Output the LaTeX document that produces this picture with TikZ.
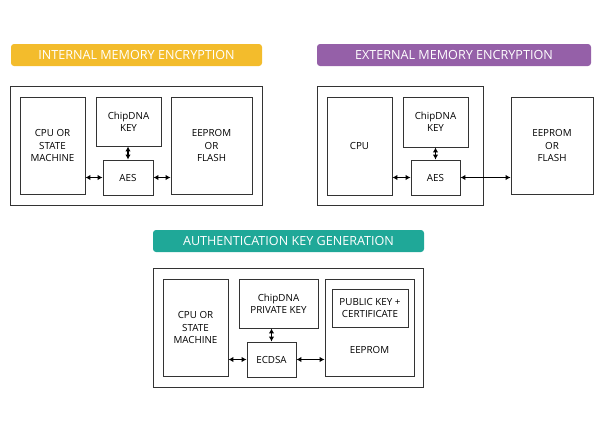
\documentclass[tikz,border=0pt]{standalone}
\usepackage{fontspec}
\setmainfont{Open Sans}
\usepackage{tikz}
\usetikzlibrary{arrows.meta}

\definecolor{intyellow}{HTML}{F3BC2C}
\definecolor{extpurple}{HTML}{9560A8}
\definecolor{authteal}{HTML}{1FA898}

\tikzset{
  banner/.style={rounded corners=3pt, minimum height=22pt, inner sep=0pt, text=white, font=\fontsize{12.6}{14}\selectfont},
  blk/.style={draw=black!80, line width=0.9pt, align=center, inner sep=0pt, font=\fontsize{9.8}{12.3}\selectfont},
  frame/.style={draw=black!80, line width=1pt},
  link/.style={{Latex[length=5pt,width=5.5pt]}-{Latex[length=5pt,width=5.5pt]}, line width=1.7pt}
}

\begin{document}
\begin{tikzpicture}[x=1pt,y=-1pt]
\useasboundingbox (0,0) rectangle (600,429);
% internal memory encryption
\node[banner, fill=intyellow, minimum width=251pt] (banA) at (136.5,55) {INTERNAL MEMORY ENCRYPTION};
\draw[frame] (10,86) rectangle (262,205);
\node[blk, minimum width=65pt, minimum height=97pt] (cpuA) at (52.5,145.5) {CPU OR\\STATE\\MACHINE};
\node[blk, minimum width=65pt, minimum height=49pt] (keyA) at (128.5,121.5) {ChipDNA\\KEY};
\node[blk, minimum width=50pt, minimum height=35pt] (aesA) at (128,177.5) {AES};
\node[blk, minimum width=81pt, minimum height=97pt] (memA) at (211.5,145.5) {EEPROM\\OR\\FLASH};
\draw[link] (aesA.north) -- (aesA.north |- keyA.south);
\draw[link] (aesA.west) -- (aesA.west -| cpuA.east);
\draw[link] (aesA.east) -- (aesA.east -| memA.west);
% external memory encryption
\node[banner, fill=extpurple, minimum width=274pt] (banB) at (454,55) {EXTERNAL MEMORY ENCRYPTION};
\draw[frame] (317,86) rectangle (483,205);
\node[blk, minimum width=65pt, minimum height=98pt] (cpuB) at (359.5,146) {CPU};
\node[blk, minimum width=65pt, minimum height=50pt] (keyB) at (435.5,122) {ChipDNA\\KEY};
\node[blk, minimum width=49pt, minimum height=35pt] (aesB) at (435.5,177.5) {AES};
\node[blk, minimum width=82pt, minimum height=97pt] (memB) at (552,145.5) {EEPROM\\OR\\FLASH};
\draw[link] (aesB.north) -- (aesB.north |- keyB.south);
\draw[link] (aesB.west) -- (aesB.west -| cpuB.east);
\draw[link] (aesB.east) -- (aesB.east -| memB.west);
% authentication key generation
\node[banner, fill=authteal, minimum width=271pt] (banC) at (288.5,241) {AUTHENTICATION KEY GENERATION};
\draw[frame] (153,268) rectangle (423,387);
\node[blk, minimum width=65pt, minimum height=97pt] (cpuC) at (195.5,327.5) {CPU OR\\STATE\\MACHINE};
\node[blk, minimum width=79pt, minimum height=49pt] (keyC) at (278.5,303.5) {ChipDNA\\PRIVATE KEY};
\node[blk, minimum width=49pt, minimum height=35pt] (ecdsa) at (271.5,359.5) {ECDSA};
\node[blk, minimum width=89pt, minimum height=97pt] (memC) at (369.5,327.5) {};
\node[blk, minimum width=76pt, minimum height=38pt] (pubC) at (370,308) {PUBLIC KEY +\\CERTIFICATE};
\node[font=\fontsize{9.8}{12.3}\selectfont, inner sep=0pt] (memClabel) at (369.5,350) {EEPROM};
\draw[link] (ecdsa.north) -- (ecdsa.north |- keyC.south);
\draw[link] (ecdsa.west) -- (ecdsa.west -| cpuC.east);
\draw[link] (ecdsa.east) -- (ecdsa.east -| memC.west);
\end{tikzpicture}
\end{document}
